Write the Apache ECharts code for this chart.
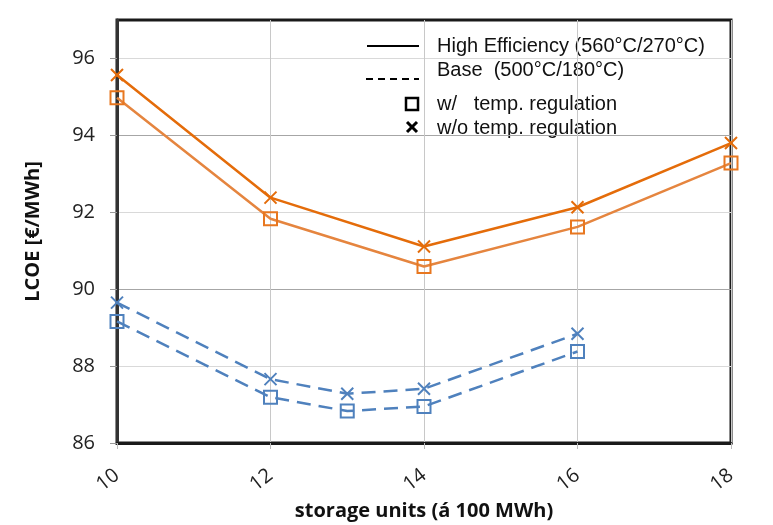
<!DOCTYPE html>
<html>
<head>
<meta charset="utf-8">
<script src="https://cdn.jsdelivr.net/npm/echarts@6/dist/echarts.min.js"></script>
<style>
html, body { margin: 0; padding: 0; background: #fff; }
#chart-container { width: 773px; height: 525px; }
</style>
</head>
<body>
<div id="chart-container"></div>
<script>
// storage units (x 100 MWh)
var unitsHE = [10, 12, 14, 16, 18];
var unitsBase = [10, 12, 13, 14, 16];

// LCOE values
var heWithout = [95.57, 92.38, 91.11, 92.13, 93.80];
var heWith = [94.98, 91.83, 90.59, 91.62, 93.28];
var baseWithout = [89.65, 87.66, 87.28, 87.41, 88.84];
var baseWith = [89.16, 87.19, 86.83, 86.95, 88.38];

var yTickLabels = [86, 88, 90, 92, 94, 96];

var legendLabels = [
	'High Efficiency (560°C/270°C)',
	'Base  (500°C/180°C)',
	'w/   temp. regulation',
	'w/o temp. regulation'
];

function pairs(xs, ys) {
	return xs.map((x, i) => [x, ys[i]]);
}

var crossSymbol = 'path://M0,0 L10,10 M10,0 L0,10';
var orangeDark = '#E46C0A';
var orangeLight = '#E5853F';
var blue = '#4F81BD';
var legendFont = '20px "Liberation Sans"';

var dom = document.getElementById('chart-container');
var myChart = echarts.init(dom, null, { renderer: 'canvas' });

var option = {
	animation: false,
	grid: {
		left: 117,
		right: 42,
		top: 20,
		bottom: 82,
		outerBoundsMode: 'none',
		containLabel: false,
		show: true,
		borderColor: '#1a1a1a',
		borderWidth: 3
	},
	xAxis: {
		type: 'value',
		min: 10,
		max: 18,
		interval: 2,
		name: 'storage units (á 100 MWh)',
		nameLocation: 'middle',
		nameGap: 54,
		nameTextStyle: { fontFamily: 'Open Sans', fontWeight: 'bold', fontSize: 20, color: '#111' },
		axisLine: { lineStyle: { color: '#1a1a1a', width: 3 } },
		axisTick: { show: true, length: 6, lineStyle: { color: '#bbb' } },
		axisLabel: { rotate: 38, fontFamily: 'Open Sans', fontSize: 20, color: '#222', margin: 30 },
		splitLine: { show: true, lineStyle: { color: '#c8c8c8', width: 1 } }
	},
	yAxis: {
		type: 'value',
		min: 86,
		max: 97,
		interval: 1,
		name: 'LCOE [€/MWh]',
		nameLocation: 'middle',
		nameGap: 74,
		nameTextStyle: { fontFamily: 'Open Sans', fontWeight: 'bold', fontSize: 20, color: '#111' },
		axisLine: { lineStyle: { color: '#333', width: 3 } },
		axisTick: { show: true, length: 7, customValues: yTickLabels, lineStyle: { color: '#999' } },
		axisLabel: { customValues: yTickLabels, fontFamily: 'Open Sans', fontSize: 20, color: '#222', margin: 22 },
		splitLine: { show: true, lineStyle: { color: ['#a6a6a6', '#d9d9d9'], width: 1 } }
	},
	graphic: [
		{ type: 'line', shape: { x1: 367, y1: 46, x2: 419, y2: 46 }, style: { stroke: '#000', lineWidth: 2 } },
		{ type: 'line', shape: { x1: 366, y1: 79, x2: 419, y2: 79 }, style: { stroke: '#000', lineWidth: 2, lineDash: [7, 5] } },
		{ type: 'rect', shape: { x: 406, y: 98, width: 12, height: 12 }, style: { fill: 'none', stroke: '#000', lineWidth: 2.5 } },
		{ type: 'polyline', shape: { points: [[407, 122], [417, 132]] }, style: { stroke: '#000', lineWidth: 3 } },
		{ type: 'polyline', shape: { points: [[417, 122], [407, 132]] }, style: { stroke: '#000', lineWidth: 3 } },
		{ type: 'text', x: 437, y: 46, style: { text: legendLabels[0], fill: '#111', font: legendFont, verticalAlign: 'middle' } },
		{ type: 'text', x: 437, y: 70, style: { text: legendLabels[1], fill: '#111', font: legendFont, verticalAlign: 'middle' } },
		{ type: 'text', x: 437, y: 104, style: { text: legendLabels[2], fill: '#111', font: legendFont, verticalAlign: 'middle' } },
		{ type: 'text', x: 437, y: 128, style: { text: legendLabels[3], fill: '#111', font: legendFont, verticalAlign: 'middle' } }
	],
	series: [
		{
			name: 'HE w/o',
			type: 'line',
			data: pairs(unitsHE, heWithout),
			symbol: crossSymbol,
			symbolSize: 12,
			lineStyle: { color: orangeDark, width: 2.5 },
			itemStyle: { color: 'transparent', borderColor: orangeDark, borderWidth: 2 },
			z: 4
		},
		{
			name: 'HE w/',
			type: 'line',
			data: pairs(unitsHE, heWith),
			symbol: 'rect',
			symbolSize: 13,
			lineStyle: { color: orangeLight, width: 2.5 },
			itemStyle: { color: 'transparent', borderColor: '#E8771F', borderWidth: 2 },
			z: 3
		},
		{
			name: 'Base w/o',
			type: 'line',
			data: pairs(unitsBase, baseWithout),
			symbol: crossSymbol,
			symbolSize: 12,
			lineStyle: { color: blue, width: 2.5, type: [14, 8] },
			itemStyle: { color: 'transparent', borderColor: blue, borderWidth: 2 },
			z: 4
		},
		{
			name: 'Base w/',
			type: 'line',
			data: pairs(unitsBase, baseWith),
			symbol: 'rect',
			symbolSize: 13,
			lineStyle: { color: blue, width: 2.5, type: [14, 8] },
			itemStyle: { color: 'transparent', borderColor: blue, borderWidth: 2 },
			z: 3
		}
	]
};

myChart.setOption(option);

window.addEventListener('resize', myChart.resize);
</script>
</body>
</html>
